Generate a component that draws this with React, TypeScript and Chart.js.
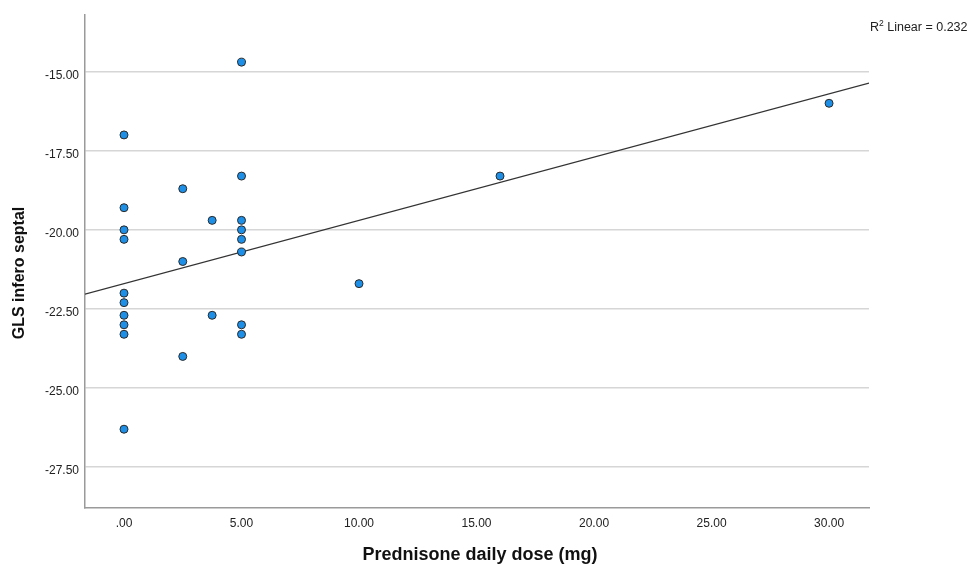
import React, { useEffect, useRef } from "react";
import { Chart, registerables } from "chart.js";

Chart.register(...registerables);

// Prednisone daily dose (mg)
const doseValues = [
  0, 0, 0, 0, 0, 0, 0, 0, 0, 0,
  2.5, 2.5, 2.5,
  3.75, 3.75,
  5, 5, 5, 5, 5, 5, 5, 5,
  10, 16, 30,
];
// GLS infero septal
const glsValues = [
  -17.0, -19.3, -20.0, -20.3, -22.0, -22.3, -22.7, -23.0, -23.3, -26.3,
  -18.7, -21.0, -24.0,
  -19.7, -22.7,
  -14.7, -18.3, -19.7, -20.0, -20.3, -20.7, -23.0, -23.3,
  -21.7, -18.3, -16.0,
];

const xTicks = [0, 5, 10, 15, 20, 25, 30];
const xTickLabels = [".00", "5.00", "10.00", "15.00", "20.00", "25.00", "30.00"];
const yTicks = [-15, -17.5, -20, -22.5, -25, -27.5];
const yTickLabels = ["-15.00", "-17.50", "-20.00", "-22.50", "-25.00", "-27.50"];

const xRange = [-1.66, 31.7];
const yRange = [-28.79, -13.21];

// fit line
const fitIntercept = -21.7;
const fitSlope = 0.2;
const rSquaredLabel = "0.232";

const xTitle = "Prednisone daily dose (mg)";
const yTitle = "GLS infero septal";

const FONT = "'Liberation Sans', Arial, sans-serif";

const textPlugin = {
  id: "textPlugin",
  afterDraw(chart: any) {
    const ctx = chart.ctx;
    const area = chart.chartArea;
    ctx.save();
    ctx.fillStyle = "#111";
    // x title
    ctx.font = `bold 18px ${FONT}`;
    ctx.textAlign = "center";
    ctx.textBaseline = "middle";
    ctx.fillText(xTitle, (area.left + area.right) / 2 + 3, 555);
    // y title
    ctx.font = `bold 16px ${FONT}`;
    ctx.save();
    ctx.translate(20, 273);
    ctx.rotate(-Math.PI / 2);
    ctx.fillText(yTitle, 0, 0);
    ctx.restore();
    // R² label
    ctx.textAlign = "left";
    ctx.textBaseline = "alphabetic";
    ctx.fillStyle = "#222";
    let x = 870;
    const y = 31;
    ctx.font = `12.5px ${FONT}`;
    ctx.fillText("R", x, y);
    x += ctx.measureText("R").width;
    ctx.font = `8.5px ${FONT}`;
    ctx.fillText("2", x, y - 5);
    x += ctx.measureText("2").width;
    ctx.font = `12.5px ${FONT}`;
    ctx.fillText(" Linear = " + rSquaredLabel, x, y);
    ctx.restore();
  },
};

export default function App() {
  const ref = useRef<HTMLCanvasElement>(null);
  useEffect(() => {
    if (!ref.current) return;
    const points = doseValues.map((d, i) => ({ x: d, y: glsValues[i] }));
    const fitLine = xRange.map((x) => ({ x, y: fitIntercept + fitSlope * x }));
    const chart = new Chart(ref.current, {
      type: "scatter",
      data: {
        datasets: [
          {
            type: "line",
            data: fitLine,
            borderColor: "#333",
            borderWidth: 1.2,
            pointRadius: 0,
            fill: false,
            order: 2,
          } as any,
          {
            data: points,
            backgroundColor: "#1e8fe6",
            borderColor: "#2a2a2a",
            borderWidth: 1,
            pointRadius: 4,
            order: 1,
          },
        ],
      },
      options: {
        responsive: false,
        animation: false,
        layout: { padding: { left: 0, right: 101, top: 15, bottom: 0 } },
        plugins: { legend: { display: false }, tooltip: { enabled: false } },
        scales: {
          x: {
            type: "linear",
            min: xRange[0],
            max: xRange[1],
            afterBuildTicks: (s: any) => {
              s.ticks = xTicks.map((v) => ({ value: v }));
            },
            afterFit: (s: any) => {
              s.height = 57;
            },
            grid: { display: false },
            border: { display: true, color: "#9a9a9a", width: 1.5 },
            ticks: {
              padding: 0,
              color: "#222",
              font: { family: FONT, size: 12 },
              callback: (v: any) => {
                const i = xTicks.indexOf(Number(v));
                return i >= 0 ? xTickLabels[i] : "";
              },
            },
          },
          y: {
            type: "linear",
            min: yRange[0],
            max: yRange[1],
            afterBuildTicks: (s: any) => {
              s.ticks = yTicks.map((v) => ({ value: v }));
            },
            afterFit: (s: any) => {
              s.width = 85;
            },
            grid: { display: true, color: "#d6d6d6", lineWidth: 1.5, drawTicks: false },
            border: { display: true, color: "#9a9a9a", width: 1.5 },
            ticks: {
              padding: 6,
              labelOffset: 4,
              color: "#222",
              font: { family: FONT, size: 12 },
              callback: (v: any) => {
                const i = yTicks.indexOf(Number(v));
                return i >= 0 ? yTickLabels[i] : "";
              },
            },
          },
        },
      },
      plugins: [textPlugin],
    });
    return () => chart.destroy();
  }, []);
  return (
    <div style={{ position: "absolute", left: 0, top: 0, width: 970, height: 565, background: "#fff" }}>
      <canvas ref={ref} width={970} height={565} />
    </div>
  );
}
